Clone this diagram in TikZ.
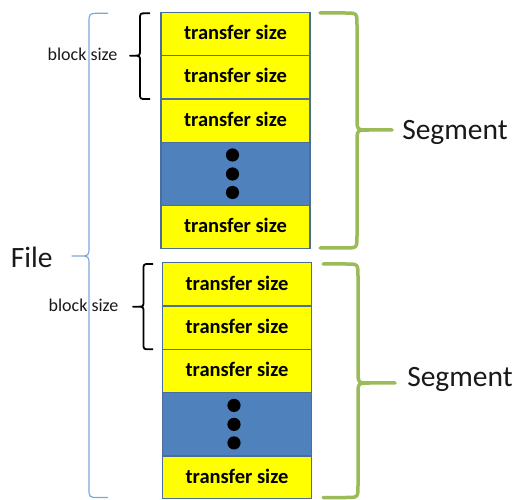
\documentclass[tikz,border=0pt]{standalone}
\usepackage{fontspec}
\setmainfont{Carlito}
\definecolor{rowyellow}{HTML}{FFFF00}
\definecolor{rowblue}{HTML}{4F81BD}
\definecolor{rowedge}{HTML}{4A6D9C}
\definecolor{seggreen}{HTML}{9BBB59}
\definecolor{fileblue}{HTML}{7EA6D8}
% #1 style, #2 x of ends, #3 x of spine, #4 x of tip, #5 y top, #6 y tip, #7 y bottom, #8 radius, #9 side of ends (+1 right, -1 left)
\newcommand\mybrace[9]{%
  \draw[#1] (#2,#5) -- ({#3+(#9)*#8},#5) .. controls (#3,#5) .. (#3,{#5+#8})
    -- (#3,{#6-#8}) .. controls (#3,#6) .. ({#3-(#9)*#8},#6) -- (#4,#6)
    -- ({#3-(#9)*#8},#6) .. controls (#3,#6) .. (#3,{#6+#8})
    -- (#3,{#7-#8}) .. controls (#3,#7) .. ({#3+(#9)*#8},#7) -- (#2,#7);}
\begin{document}
\begin{tikzpicture}[x=1pt,y=-1pt,
  row/.style={draw=rowedge, line width=1.3pt, fill=rowyellow, minimum width=149pt,
    minimum height=43.3pt, inner sep=0pt, font=\fontsize{20.5}{22}\selectfont\bfseries},
  dotsrow/.style={row, fill=rowblue, minimum height=63.4pt},
  lastrow/.style={row, minimum height=42.6pt},
  greenbrace/.style={draw=seggreen, line width=3.5pt, line join=round, line cap=round},
  blackbrace/.style={draw=black, line width=1.8pt, line join=round},
  filebrace/.style={draw=fileblue, line width=1.2pt, line join=round},
  biglabel/.style={font=\fontsize{29.5}{32}\selectfont, text=black!90, inner sep=0pt},
  smalllabel/.style={font=\fontsize{18}{20}\selectfont, text=black!90, inner sep=0pt}]
\useasboundingbox (0,0) rectangle (515,500);
% file brace (behind)
\mybrace{filebrace}{108}{89}{72}{13.3}{256}{497.5}{10}{1}
\foreach \s/\dx/\dy in {t/0/0, b/1.5/250.4}{
  \node[row] (\s1) at ({235.5+\dx},{34+\dy}) {\raisebox{3pt}{transfer size}};
  \node[row] (\s2) at ({235.5+\dx},{77.3+\dy}) {\raisebox{3pt}{transfer size}};
  \node[row] (\s3) at ({235.5+\dx},{120.6+\dy}) {\raisebox{3pt}{transfer size}};
  \node[dotsrow] (\s4) at ({235.5+\dx},{174+\dy}) {};
  \node[lastrow] (\s5) at ({235.5+\dx},{227+\dy}) {\raisebox{3pt}{transfer size}};
  \fill ([shift={(-3,-19)}]\s4.center) circle (6.6pt);
  \fill ([shift={(-3,0)}]\s4.center) circle (6.6pt);
  \fill ([shift={(-3,18.5)}]\s4.center) circle (6.6pt);
}
% segment braces
\mybrace{greenbrace}{320}{357}{392}{13}{130}{248}{12}{-1}
\mybrace{greenbrace}{323}{358}{395}{264}{383}{497.5}{12}{-1}
\node[biglabel] (seg1) at (455,132) {Segment};
\node[biglabel] (seg2) at (460,379) {Segment};
% block size braces
\mybrace{blackbrace}{150}{140}{130}{13.3}{55.7}{99}{6}{1}
\mybrace{blackbrace}{153}{143.5}{133}{264}{306.7}{349.3}{6}{1}
\node[smalllabel] (bs1) at (82.5,54.7) {block size};
\node[smalllabel] (bs2) at (83.5,305) {block size};
% file label
\node[biglabel] (file) at (31.7,257) {File};
\end{tikzpicture}
\end{document}
